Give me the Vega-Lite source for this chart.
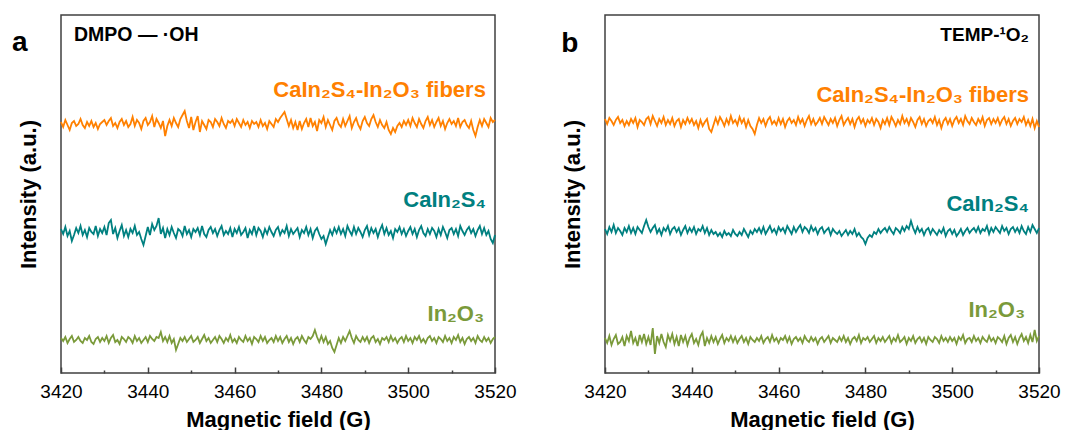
{
"$schema": "https://vega.github.io/schema/vega-lite/v6.json",
"padding": {"left": 11, "top": 14, "right": 10, "bottom": 2},
"spacing": 110,
"bounds": "flush",
"config": {
 "view": {"stroke": "#404040", "strokeWidth": 1.5},
 "font": "Liberation Sans",
 "axis": {"grid": false, "domain": false, "labelFont": "Liberation Sans", "titleFont": "Liberation Sans", "labelColor": "#000000", "titleColor": "#000000", "titleFontWeight": "bold", "titleFontSize": 22},
 "axisX": {"labelFontSize": 19, "labelPadding": 15, "titlePadding": 5, "tickColor": "#404040", "tickWidth": 1.5, "labelFlush": false, "labelOverlap": false},
 "axisY": {"labels": false, "ticks": false, "titlePadding": 21}
},
"datasets": {
"ao": [{"f":3420,"v":251},{"f":3420.5,"v":246},{"f":3421,"v":253},{"f":3421.5,"v":248},{"f":3422,"v":243},{"f":3422.5,"v":250},{"f":3423,"v":252},{"f":3423.5,"v":247},{"f":3424,"v":249},{"f":3424.5,"v":254},
{"f":3425,"v":248},{"f":3425.5,"v":245},{"f":3426,"v":251},{"f":3426.5,"v":247},{"f":3427,"v":252},{"f":3427.5,"v":246},{"f":3428,"v":250},{"f":3428.5,"v":244},{"f":3429,"v":249},{"f":3429.5,"v":251},
{"f":3430,"v":253},{"f":3430.5,"v":248},{"f":3431,"v":252},{"f":3431.5,"v":255},{"f":3432,"v":247},{"f":3432.5,"v":250},{"f":3433,"v":245},{"f":3433.5,"v":251},{"f":3434,"v":254},{"f":3434.5,"v":248},
{"f":3435,"v":252},{"f":3435.5,"v":246},{"f":3436,"v":249},{"f":3436.5,"v":256},{"f":3437,"v":247},{"f":3437.5,"v":253},{"f":3438,"v":250},{"f":3438.5,"v":244},{"f":3439,"v":252},{"f":3439.5,"v":255},
{"f":3440,"v":248},{"f":3440.5,"v":251},{"f":3441,"v":257},{"f":3441.5,"v":246},{"f":3442,"v":254},{"f":3442.5,"v":250},{"f":3443,"v":245},{"f":3443.5,"v":252},{"f":3444,"v":237},{"f":3444.5,"v":247},
{"f":3445,"v":253},{"f":3445.5,"v":247},{"f":3446,"v":255},{"f":3446.5,"v":250},{"f":3447,"v":246},{"f":3447.5,"v":254},{"f":3448,"v":258},{"f":3448.5,"v":262},{"f":3449,"v":252},{"f":3449.5,"v":245},
{"f":3450,"v":256},{"f":3450.5,"v":243},{"f":3451,"v":251},{"f":3451.5,"v":257},{"f":3452,"v":241},{"f":3452.5,"v":252},{"f":3453,"v":248},{"f":3453.5,"v":244},{"f":3454,"v":253},{"f":3454.5,"v":251},
{"f":3455,"v":246},{"f":3455.5,"v":254},{"f":3456,"v":251},{"f":3456.5,"v":247},{"f":3457,"v":255},{"f":3457.5,"v":249},{"f":3458,"v":245},{"f":3458.5,"v":252},{"f":3459,"v":250},{"f":3459.5,"v":253},
{"f":3460,"v":247},{"f":3460.5,"v":254},{"f":3461,"v":250},{"f":3461.5,"v":246},{"f":3462,"v":253},{"f":3462.5,"v":248},{"f":3463,"v":251},{"f":3463.5,"v":245},{"f":3464,"v":252},{"f":3464.5,"v":249},
{"f":3465,"v":251},{"f":3465.5,"v":246},{"f":3466,"v":253},{"f":3466.5,"v":247},{"f":3467,"v":250},{"f":3467.5,"v":244},{"f":3468,"v":252},{"f":3468.5,"v":249},{"f":3469,"v":246},{"f":3469.5,"v":254},
{"f":3470,"v":251},{"f":3470.5,"v":255},{"f":3471,"v":258},{"f":3471.5,"v":261},{"f":3472,"v":254},{"f":3472.5,"v":247},{"f":3473,"v":253},{"f":3473.5,"v":245},{"f":3474,"v":251},{"f":3474.5,"v":243},
{"f":3475,"v":252},{"f":3475.5,"v":244},{"f":3476,"v":250},{"f":3476.5,"v":254},{"f":3477,"v":246},{"f":3477.5,"v":255},{"f":3478,"v":247},{"f":3478.5,"v":251},{"f":3479,"v":242},{"f":3479.5,"v":253},
{"f":3480,"v":250},{"f":3480.5,"v":256},{"f":3481,"v":246},{"f":3481.5,"v":253},{"f":3482,"v":248},{"f":3482.5,"v":243},{"f":3483,"v":252},{"f":3483.5,"v":255},{"f":3484,"v":249},{"f":3484.5,"v":246},
{"f":3485,"v":254},{"f":3485.5,"v":247},{"f":3486,"v":252},{"f":3486.5,"v":257},{"f":3487,"v":245},{"f":3487.5,"v":251},{"f":3488,"v":255},{"f":3488.5,"v":248},{"f":3489,"v":244},{"f":3489.5,"v":252},
{"f":3490,"v":256},{"f":3490.5,"v":250},{"f":3491,"v":247},{"f":3491.5,"v":254},{"f":3492,"v":258},{"f":3492.5,"v":251},{"f":3493,"v":246},{"f":3493.5,"v":253},{"f":3494,"v":248},{"f":3494.5,"v":245},
{"f":3495,"v":251},{"f":3495.5,"v":243},{"f":3496,"v":239},{"f":3496.5,"v":245},{"f":3497,"v":241},{"f":3497.5,"v":247},{"f":3498,"v":250},{"f":3498.5,"v":246},{"f":3499,"v":252},{"f":3499.5,"v":248},
{"f":3500,"v":253},{"f":3500.5,"v":247},{"f":3501,"v":255},{"f":3501.5,"v":250},{"f":3502,"v":246},{"f":3502.5,"v":254},{"f":3503,"v":249},{"f":3503.5,"v":245},{"f":3504,"v":252},{"f":3504.5,"v":256},
{"f":3505,"v":248},{"f":3505.5,"v":253},{"f":3506,"v":246},{"f":3506.5,"v":251},{"f":3507,"v":255},{"f":3507.5,"v":247},{"f":3508,"v":252},{"f":3508.5,"v":244},{"f":3509,"v":250},{"f":3509.5,"v":254},
{"f":3510,"v":249},{"f":3510.5,"v":252},{"f":3511,"v":247},{"f":3511.5,"v":255},{"f":3512,"v":246},{"f":3512.5,"v":251},{"f":3513,"v":253},{"f":3513.5,"v":248},{"f":3514,"v":245},{"f":3514.5,"v":252},
{"f":3515,"v":243},{"f":3515.5,"v":237},{"f":3516,"v":246},{"f":3516.5,"v":253},{"f":3517,"v":247},{"f":3517.5,"v":254},{"f":3518,"v":250},{"f":3518.5,"v":246},{"f":3519,"v":255},{"f":3519.5,"v":251},
{"f":3520,"v":253}],
"at": [{"f":3420,"v":144},{"f":3420.5,"v":139},{"f":3421,"v":146},{"f":3421.5,"v":137},{"f":3422,"v":142},{"f":3422.5,"v":132},{"f":3423,"v":138},{"f":3423.5,"v":145},{"f":3424,"v":140},{"f":3424.5,"v":147},
{"f":3425,"v":138},{"f":3425.5,"v":143},{"f":3426,"v":136},{"f":3426.5,"v":145},{"f":3427,"v":141},{"f":3427.5,"v":139},{"f":3428,"v":147},{"f":3428.5,"v":137},{"f":3429,"v":144},{"f":3429.5,"v":140},
{"f":3430,"v":146},{"f":3430.5,"v":138},{"f":3431,"v":150},{"f":3431.5,"v":153},{"f":3432,"v":139},{"f":3432.5,"v":145},{"f":3433,"v":135},{"f":3433.5,"v":142},{"f":3434,"v":148},{"f":3434.5,"v":137},
{"f":3435,"v":143},{"f":3435.5,"v":136},{"f":3436,"v":144},{"f":3436.5,"v":140},{"f":3437,"v":147},{"f":3437.5,"v":138},{"f":3438,"v":141},{"f":3438.5,"v":134},{"f":3439,"v":128},{"f":3439.5,"v":137},
{"f":3440,"v":146},{"f":3440.5,"v":138},{"f":3441,"v":149},{"f":3441.5,"v":143},{"f":3442,"v":147},{"f":3442.5,"v":155},{"f":3443,"v":139},{"f":3443.5,"v":145},{"f":3444,"v":135},{"f":3444.5,"v":144},
{"f":3445,"v":138},{"f":3445.5,"v":146},{"f":3446,"v":140},{"f":3446.5,"v":135},{"f":3447,"v":144},{"f":3447.5,"v":142},{"f":3448,"v":137},{"f":3448.5,"v":147},{"f":3449,"v":139},{"f":3449.5,"v":143},
{"f":3450,"v":136},{"f":3450.5,"v":144},{"f":3451,"v":141},{"f":3451.5,"v":145},{"f":3452,"v":138},{"f":3452.5,"v":147},{"f":3453,"v":139},{"f":3453.5,"v":136},{"f":3454,"v":143},{"f":3454.5,"v":146},
{"f":3455,"v":140},{"f":3455.5,"v":144},{"f":3456,"v":137},{"f":3456.5,"v":143},{"f":3457,"v":147},{"f":3457.5,"v":138},{"f":3458,"v":142},{"f":3458.5,"v":139},{"f":3459,"v":145},{"f":3459.5,"v":136},
{"f":3460,"v":144},{"f":3460.5,"v":140},{"f":3461,"v":146},{"f":3461.5,"v":138},{"f":3462,"v":141},{"f":3462.5,"v":145},{"f":3463,"v":135},{"f":3463.5,"v":143},{"f":3464,"v":139},{"f":3464.5,"v":147},
{"f":3465,"v":138},{"f":3465.5,"v":145},{"f":3466,"v":142},{"f":3466.5,"v":136},{"f":3467,"v":144},{"f":3467.5,"v":139},{"f":3468,"v":146},{"f":3468.5,"v":141},{"f":3469,"v":137},{"f":3469.5,"v":143},
{"f":3470,"v":146},{"f":3470.5,"v":138},{"f":3471,"v":143},{"f":3471.5,"v":140},{"f":3472,"v":147},{"f":3472.5,"v":137},{"f":3473,"v":144},{"f":3473.5,"v":139},{"f":3474,"v":142},{"f":3474.5,"v":145},
{"f":3475,"v":136},{"f":3475.5,"v":143},{"f":3476,"v":140},{"f":3476.5,"v":146},{"f":3477,"v":138},{"f":3477.5,"v":144},{"f":3478,"v":135},{"f":3478.5,"v":142},{"f":3479,"v":145},{"f":3479.5,"v":139},
{"f":3480,"v":134},{"f":3480.5,"v":137},{"f":3481,"v":129},{"f":3481.5,"v":136},{"f":3482,"v":143},{"f":3482.5,"v":138},{"f":3483,"v":145},{"f":3483.5,"v":140},{"f":3484,"v":146},{"f":3484.5,"v":139},
{"f":3485,"v":144},{"f":3485.5,"v":137},{"f":3486,"v":147},{"f":3486.5,"v":142},{"f":3487,"v":138},{"f":3487.5,"v":146},{"f":3488,"v":139},{"f":3488.5,"v":145},{"f":3489,"v":141},{"f":3489.5,"v":136},
{"f":3490,"v":143},{"f":3490.5,"v":147},{"f":3491,"v":138},{"f":3491.5,"v":145},{"f":3492,"v":140},{"f":3492.5,"v":144},{"f":3493,"v":136},{"f":3493.5,"v":143},{"f":3494,"v":148},{"f":3494.5,"v":139},
{"f":3495,"v":145},{"f":3495.5,"v":138},{"f":3496,"v":142},{"f":3496.5,"v":135},{"f":3497,"v":144},{"f":3497.5,"v":141},{"f":3498,"v":146},{"f":3498.5,"v":139},{"f":3499,"v":144},{"f":3499.5,"v":137},
{"f":3500,"v":142},{"f":3500.5,"v":146},{"f":3501,"v":139},{"f":3501.5,"v":144},{"f":3502,"v":136},{"f":3502.5,"v":143},{"f":3503,"v":147},{"f":3503.5,"v":140},{"f":3504,"v":137},{"f":3504.5,"v":144},
{"f":3505,"v":139},{"f":3505.5,"v":145},{"f":3506,"v":142},{"f":3506.5,"v":136},{"f":3507,"v":144},{"f":3507.5,"v":138},{"f":3508,"v":146},{"f":3508.5,"v":141},{"f":3509,"v":135},{"f":3509.5,"v":143},
{"f":3510,"v":145},{"f":3510.5,"v":139},{"f":3511,"v":144},{"f":3511.5,"v":137},{"f":3512,"v":147},{"f":3512.5,"v":142},{"f":3513,"v":138},{"f":3513.5,"v":143},{"f":3514,"v":146},{"f":3514.5,"v":140},
{"f":3515,"v":144},{"f":3515.5,"v":137},{"f":3516,"v":143},{"f":3516.5,"v":147},{"f":3517,"v":139},{"f":3517.5,"v":145},{"f":3518,"v":138},{"f":3518.5,"v":142},{"f":3519,"v":134},{"f":3519.5,"v":130},
{"f":3520,"v":138}],
"ag": [{"f":3420,"v":35},{"f":3420.5,"v":32},{"f":3421,"v":36},{"f":3421.5,"v":30},{"f":3422,"v":34},{"f":3422.5,"v":37},{"f":3423,"v":31},{"f":3423.5,"v":33},{"f":3424,"v":36},{"f":3424.5,"v":32},
{"f":3425,"v":30},{"f":3425.5,"v":35},{"f":3426,"v":33},{"f":3426.5,"v":37},{"f":3427,"v":31},{"f":3427.5,"v":29},{"f":3428,"v":34},{"f":3428.5,"v":36},{"f":3429,"v":31},{"f":3429.5,"v":35},
{"f":3430,"v":32},{"f":3430.5,"v":37},{"f":3431,"v":30},{"f":3431.5,"v":35},{"f":3432,"v":38},{"f":3432.5,"v":31},{"f":3433,"v":33},{"f":3433.5,"v":29},{"f":3434,"v":36},{"f":3434.5,"v":34},
{"f":3435,"v":31},{"f":3435.5,"v":36},{"f":3436,"v":34},{"f":3436.5,"v":30},{"f":3437,"v":37},{"f":3437.5,"v":32},{"f":3438,"v":35},{"f":3438.5,"v":30},{"f":3439,"v":33},{"f":3439.5,"v":36},
{"f":3440,"v":31},{"f":3440.5,"v":37},{"f":3441,"v":34},{"f":3441.5,"v":32},{"f":3442,"v":36},{"f":3442.5,"v":35},{"f":3443,"v":41},{"f":3443.5,"v":32},{"f":3444,"v":36},{"f":3444.5,"v":31},
{"f":3445,"v":37},{"f":3445.5,"v":30},{"f":3446,"v":34},{"f":3446.5,"v":23},{"f":3447,"v":29},{"f":3447.5,"v":35},{"f":3448,"v":32},{"f":3448.5,"v":36},{"f":3449,"v":31},{"f":3449.5,"v":34},
{"f":3450,"v":37},{"f":3450.5,"v":31},{"f":3451,"v":33},{"f":3451.5,"v":36},{"f":3452,"v":30},{"f":3452.5,"v":34},{"f":3453,"v":38},{"f":3453.5,"v":32},{"f":3454,"v":35},{"f":3454.5,"v":30},
{"f":3455,"v":33},{"f":3455.5,"v":36},{"f":3456,"v":31},{"f":3456.5,"v":37},{"f":3457,"v":34},{"f":3457.5,"v":30},{"f":3458,"v":35},{"f":3458.5,"v":32},{"f":3459,"v":38},{"f":3459.5,"v":31},
{"f":3460,"v":34},{"f":3460.5,"v":30},{"f":3461,"v":36},{"f":3461.5,"v":33},{"f":3462,"v":31},{"f":3462.5,"v":37},{"f":3463,"v":32},{"f":3463.5,"v":35},{"f":3464,"v":29},{"f":3464.5,"v":36},
{"f":3465,"v":34},{"f":3465.5,"v":31},{"f":3466,"v":37},{"f":3466.5,"v":32},{"f":3467,"v":36},{"f":3467.5,"v":30},{"f":3468,"v":33},{"f":3468.5,"v":35},{"f":3469,"v":31},{"f":3469.5,"v":37},
{"f":3470,"v":32},{"f":3470.5,"v":36},{"f":3471,"v":30},{"f":3471.5,"v":34},{"f":3472,"v":37},{"f":3472.5,"v":31},{"f":3473,"v":35},{"f":3473.5,"v":29},{"f":3474,"v":34},{"f":3474.5,"v":36},
{"f":3475,"v":31},{"f":3475.5,"v":37},{"f":3476,"v":33},{"f":3476.5,"v":30},{"f":3477,"v":36},{"f":3477.5,"v":34},{"f":3478,"v":37},{"f":3478.5,"v":43},{"f":3479,"v":36},{"f":3479.5,"v":31},
{"f":3480,"v":37},{"f":3480.5,"v":31},{"f":3481,"v":36},{"f":3481.5,"v":29},{"f":3482,"v":32},{"f":3482.5,"v":25},{"f":3483,"v":21},{"f":3483.5,"v":28},{"f":3484,"v":35},{"f":3484.5,"v":30},
{"f":3485,"v":36},{"f":3485.5,"v":32},{"f":3486,"v":37},{"f":3486.5,"v":42},{"f":3487,"v":35},{"f":3487.5,"v":30},{"f":3488,"v":37},{"f":3488.5,"v":33},{"f":3489,"v":31},{"f":3489.5,"v":36},
{"f":3490,"v":32},{"f":3490.5,"v":36},{"f":3491,"v":30},{"f":3491.5,"v":35},{"f":3492,"v":37},{"f":3492.5,"v":31},{"f":3493,"v":34},{"f":3493.5,"v":29},{"f":3494,"v":35},{"f":3494.5,"v":33},
{"f":3495,"v":36},{"f":3495.5,"v":31},{"f":3496,"v":37},{"f":3496.5,"v":32},{"f":3497,"v":35},{"f":3497.5,"v":30},{"f":3498,"v":34},{"f":3498.5,"v":36},{"f":3499,"v":31},{"f":3499.5,"v":37},
{"f":3500,"v":32},{"f":3500.5,"v":35},{"f":3501,"v":30},{"f":3501.5,"v":36},{"f":3502,"v":33},{"f":3502.5,"v":37},{"f":3503,"v":31},{"f":3503.5,"v":34},{"f":3504,"v":30},{"f":3504.5,"v":35},
{"f":3505,"v":37},{"f":3505.5,"v":32},{"f":3506,"v":35},{"f":3506.5,"v":30},{"f":3507,"v":36},{"f":3507.5,"v":34},{"f":3508,"v":31},{"f":3508.5,"v":37},{"f":3509,"v":32},{"f":3509.5,"v":35},
{"f":3510,"v":30},{"f":3510.5,"v":36},{"f":3511,"v":33},{"f":3511.5,"v":38},{"f":3512,"v":31},{"f":3512.5,"v":35},{"f":3513,"v":29},{"f":3513.5,"v":34},{"f":3514,"v":36},{"f":3514.5,"v":32},
{"f":3515,"v":35},{"f":3515.5,"v":30},{"f":3516,"v":37},{"f":3516.5,"v":33},{"f":3517,"v":31},{"f":3517.5,"v":36},{"f":3518,"v":32},{"f":3518.5,"v":35},{"f":3519,"v":30},{"f":3519.5,"v":34},
{"f":3520,"v":36}],
"bo": [{"f":3420,"v":254},{"f":3420.5,"v":249},{"f":3421,"v":255},{"f":3421.5,"v":252},{"f":3422,"v":248},{"f":3422.5,"v":253},{"f":3423,"v":256},{"f":3423.5,"v":250},{"f":3424,"v":253},{"f":3424.5,"v":247},
{"f":3425,"v":252},{"f":3425.5,"v":248},{"f":3426,"v":254},{"f":3426.5,"v":250},{"f":3427,"v":255},{"f":3427.5,"v":246},{"f":3428,"v":253},{"f":3428.5,"v":251},{"f":3429,"v":248},{"f":3429.5,"v":254},
{"f":3430,"v":256},{"f":3430.5,"v":249},{"f":3431,"v":257},{"f":3431.5,"v":252},{"f":3432,"v":247},{"f":3432.5,"v":254},{"f":3433,"v":250},{"f":3433.5,"v":256},{"f":3434,"v":248},{"f":3434.5,"v":253},
{"f":3435,"v":249},{"f":3435.5,"v":255},{"f":3436,"v":247},{"f":3436.5,"v":252},{"f":3437,"v":254},{"f":3437.5,"v":246},{"f":3438,"v":253},{"f":3438.5,"v":249},{"f":3439,"v":255},{"f":3439.5,"v":250},
{"f":3440,"v":254},{"f":3440.5,"v":248},{"f":3441,"v":252},{"f":3441.5,"v":245},{"f":3442,"v":253},{"f":3442.5,"v":247},{"f":3443,"v":251},{"f":3443.5,"v":254},{"f":3444,"v":244},{"f":3444.5,"v":241},
{"f":3445,"v":248},{"f":3445.5,"v":255},{"f":3446,"v":249},{"f":3446.5,"v":256},{"f":3447,"v":252},{"f":3447.5,"v":247},{"f":3448,"v":254},{"f":3448.5,"v":249},{"f":3449,"v":257},{"f":3449.5,"v":250},
{"f":3450,"v":253},{"f":3450.5,"v":248},{"f":3451,"v":256},{"f":3451.5,"v":250},{"f":3452,"v":254},{"f":3452.5,"v":246},{"f":3453,"v":253},{"f":3453.5,"v":247},{"f":3454,"v":244},{"f":3454.5,"v":239},
{"f":3455,"v":248},{"f":3455.5,"v":255},{"f":3456,"v":250},{"f":3456.5,"v":254},{"f":3457,"v":247},{"f":3457.5,"v":253},{"f":3458,"v":256},{"f":3458.5,"v":249},{"f":3459,"v":252},{"f":3459.5,"v":248},
{"f":3460,"v":255},{"f":3460.5,"v":249},{"f":3461,"v":254},{"f":3461.5,"v":246},{"f":3462,"v":252},{"f":3462.5,"v":255},{"f":3463,"v":250},{"f":3463.5,"v":253},{"f":3464,"v":248},{"f":3464.5,"v":256},
{"f":3465,"v":250},{"f":3465.5,"v":254},{"f":3466,"v":247},{"f":3466.5,"v":253},{"f":3467,"v":257},{"f":3467.5,"v":249},{"f":3468,"v":254},{"f":3468.5,"v":248},{"f":3469,"v":251},{"f":3469.5,"v":255},
{"f":3470,"v":249},{"f":3470.5,"v":256},{"f":3471,"v":252},{"f":3471.5,"v":248},{"f":3472,"v":254},{"f":3472.5,"v":250},{"f":3473,"v":255},{"f":3473.5,"v":247},{"f":3474,"v":253},{"f":3474.5,"v":257},
{"f":3475,"v":248},{"f":3475.5,"v":252},{"f":3476,"v":255},{"f":3476.5,"v":249},{"f":3477,"v":254},{"f":3477.5,"v":246},{"f":3478,"v":253},{"f":3478.5,"v":256},{"f":3479,"v":250},{"f":3479.5,"v":254},
{"f":3480,"v":247},{"f":3480.5,"v":253},{"f":3481,"v":250},{"f":3481.5,"v":255},{"f":3482,"v":248},{"f":3482.5,"v":254},{"f":3483,"v":251},{"f":3483.5,"v":245},{"f":3484,"v":253},{"f":3484.5,"v":249},
{"f":3485,"v":255},{"f":3485.5,"v":248},{"f":3486,"v":256},{"f":3486.5,"v":252},{"f":3487,"v":247},{"f":3487.5,"v":253},{"f":3488,"v":249},{"f":3488.5,"v":257},{"f":3489,"v":250},{"f":3489.5,"v":254},
{"f":3490,"v":248},{"f":3490.5,"v":255},{"f":3491,"v":251},{"f":3491.5,"v":246},{"f":3492,"v":253},{"f":3492.5,"v":256},{"f":3493,"v":249},{"f":3493.5,"v":254},{"f":3494,"v":247},{"f":3494.5,"v":252},
{"f":3495,"v":254},{"f":3495.5,"v":250},{"f":3496,"v":256},{"f":3496.5,"v":248},{"f":3497,"v":253},{"f":3497.5,"v":245},{"f":3498,"v":252},{"f":3498.5,"v":255},{"f":3499,"v":249},{"f":3499.5,"v":254},
{"f":3500,"v":247},{"f":3500.5,"v":253},{"f":3501,"v":256},{"f":3501.5,"v":250},{"f":3502,"v":254},{"f":3502.5,"v":248},{"f":3503,"v":257},{"f":3503.5,"v":252},{"f":3504,"v":249},{"f":3504.5,"v":255},
{"f":3505,"v":251},{"f":3505.5,"v":248},{"f":3506,"v":254},{"f":3506.5,"v":250},{"f":3507,"v":256},{"f":3507.5,"v":247},{"f":3508,"v":253},{"f":3508.5,"v":255},{"f":3509,"v":249},{"f":3509.5,"v":254},
{"f":3510,"v":250},{"f":3510.5,"v":255},{"f":3511,"v":248},{"f":3511.5,"v":253},{"f":3512,"v":256},{"f":3512.5,"v":249},{"f":3513,"v":254},{"f":3513.5,"v":247},{"f":3514,"v":252},{"f":3514.5,"v":255},
{"f":3515,"v":249},{"f":3515.5,"v":254},{"f":3516,"v":251},{"f":3516.5,"v":256},{"f":3517,"v":248},{"f":3517.5,"v":253},{"f":3518,"v":247},{"f":3518.5,"v":254},{"f":3519,"v":245},{"f":3519.5,"v":252},
{"f":3520,"v":246}],
"bt": [{"f":3420,"v":144},{"f":3420.5,"v":139},{"f":3421,"v":146},{"f":3421.5,"v":141},{"f":3422,"v":148},{"f":3422.5,"v":140},{"f":3423,"v":145},{"f":3423.5,"v":142},{"f":3424,"v":138},{"f":3424.5,"v":145},
{"f":3425,"v":141},{"f":3425.5,"v":147},{"f":3426,"v":140},{"f":3426.5,"v":145},{"f":3427,"v":139},{"f":3427.5,"v":146},{"f":3428,"v":143},{"f":3428.5,"v":140},{"f":3429,"v":147},{"f":3429.5,"v":153},
{"f":3430,"v":146},{"f":3430.5,"v":141},{"f":3431,"v":145},{"f":3431.5,"v":148},{"f":3432,"v":140},{"f":3432.5,"v":144},{"f":3433,"v":138},{"f":3433.5,"v":145},{"f":3434,"v":142},{"f":3434.5,"v":147},
{"f":3435,"v":139},{"f":3435.5,"v":144},{"f":3436,"v":146},{"f":3436.5,"v":141},{"f":3437,"v":145},{"f":3437.5,"v":138},{"f":3438,"v":143},{"f":3438.5,"v":147},{"f":3439,"v":140},{"f":3439.5,"v":145},
{"f":3440,"v":141},{"f":3440.5,"v":146},{"f":3441,"v":139},{"f":3441.5,"v":144},{"f":3442,"v":142},{"f":3442.5,"v":147},{"f":3443,"v":140},{"f":3443.5,"v":145},{"f":3444,"v":138},{"f":3444.5,"v":143},
{"f":3445,"v":139},{"f":3445.5,"v":141},{"f":3446,"v":137},{"f":3446.5,"v":140},{"f":3447,"v":136},{"f":3447.5,"v":142},{"f":3448,"v":138},{"f":3448.5,"v":140},{"f":3449,"v":137},{"f":3449.5,"v":143},
{"f":3450,"v":139},{"f":3450.5,"v":137},{"f":3451,"v":141},{"f":3451.5,"v":138},{"f":3452,"v":144},{"f":3452.5,"v":140},{"f":3453,"v":136},{"f":3453.5,"v":142},{"f":3454,"v":139},{"f":3454.5,"v":144},
{"f":3455,"v":141},{"f":3455.5,"v":145},{"f":3456,"v":140},{"f":3456.5,"v":146},{"f":3457,"v":139},{"f":3457.5,"v":143},{"f":3458,"v":147},{"f":3458.5,"v":141},{"f":3459,"v":144},{"f":3459.5,"v":139},
{"f":3460,"v":146},{"f":3460.5,"v":142},{"f":3461,"v":145},{"f":3461.5,"v":140},{"f":3462,"v":147},{"f":3462.5,"v":143},{"f":3463,"v":139},{"f":3463.5,"v":146},{"f":3464,"v":141},{"f":3464.5,"v":145},
{"f":3465,"v":148},{"f":3465.5,"v":141},{"f":3466,"v":146},{"f":3466.5,"v":144},{"f":3467,"v":140},{"f":3467.5,"v":147},{"f":3468,"v":142},{"f":3468.5,"v":145},{"f":3469,"v":139},{"f":3469.5,"v":144},
{"f":3470,"v":146},{"f":3470.5,"v":140},{"f":3471,"v":143},{"f":3471.5,"v":145},{"f":3472,"v":138},{"f":3472.5,"v":144},{"f":3473,"v":141},{"f":3473.5,"v":139},{"f":3474,"v":142},{"f":3474.5,"v":137},
{"f":3475,"v":140},{"f":3475.5,"v":143},{"f":3476,"v":138},{"f":3476.5,"v":142},{"f":3477,"v":139},{"f":3477.5,"v":144},{"f":3478,"v":137},{"f":3478.5,"v":140},{"f":3479,"v":136},{"f":3479.5,"v":134},
{"f":3480,"v":129},{"f":3480.5,"v":135},{"f":3481,"v":138},{"f":3481.5,"v":136},{"f":3482,"v":141},{"f":3482.5,"v":139},{"f":3483,"v":144},{"f":3483.5,"v":140},{"f":3484,"v":143},{"f":3484.5,"v":145},
{"f":3485,"v":141},{"f":3485.5,"v":146},{"f":3486,"v":142},{"f":3486.5,"v":139},{"f":3487,"v":145},{"f":3487.5,"v":143},{"f":3488,"v":140},{"f":3488.5,"v":146},{"f":3489,"v":142},{"f":3489.5,"v":147},
{"f":3490,"v":144},{"f":3490.5,"v":152},{"f":3491,"v":145},{"f":3491.5,"v":140},{"f":3492,"v":146},{"f":3492.5,"v":141},{"f":3493,"v":144},{"f":3493.5,"v":138},{"f":3494,"v":143},{"f":3494.5,"v":145},
{"f":3495,"v":139},{"f":3495.5,"v":144},{"f":3496,"v":141},{"f":3496.5,"v":138},{"f":3497,"v":143},{"f":3497.5,"v":140},{"f":3498,"v":145},{"f":3498.5,"v":137},{"f":3499,"v":142},{"f":3499.5,"v":144},
{"f":3500,"v":139},{"f":3500.5,"v":143},{"f":3501,"v":137},{"f":3501.5,"v":140},{"f":3502,"v":144},{"f":3502.5,"v":138},{"f":3503,"v":142},{"f":3503.5,"v":145},{"f":3504,"v":140},{"f":3504.5,"v":143},
{"f":3505,"v":145},{"f":3505.5,"v":141},{"f":3506,"v":146},{"f":3506.5,"v":140},{"f":3507,"v":144},{"f":3507.5,"v":142},{"f":3508,"v":147},{"f":3508.5,"v":139},{"f":3509,"v":145},{"f":3509.5,"v":141},
{"f":3510,"v":146},{"f":3510.5,"v":143},{"f":3511,"v":140},{"f":3511.5,"v":147},{"f":3512,"v":142},{"f":3512.5,"v":145},{"f":3513,"v":139},{"f":3513.5,"v":144},{"f":3514,"v":146},{"f":3514.5,"v":141},
{"f":3515,"v":145},{"f":3515.5,"v":140},{"f":3516,"v":147},{"f":3516.5,"v":142},{"f":3517,"v":139},{"f":3517.5,"v":146},{"f":3518,"v":141},{"f":3518.5,"v":148},{"f":3519,"v":144},{"f":3519.5,"v":140},
{"f":3520,"v":145}],
"bg": [{"f":3420,"v":35},{"f":3420.5,"v":30},{"f":3421,"v":37},{"f":3421.5,"v":28},{"f":3422,"v":34},{"f":3422.5,"v":38},{"f":3423,"v":29},{"f":3423.5,"v":31},{"f":3424,"v":36},{"f":3424.5,"v":27},
{"f":3425,"v":37},{"f":3425.5,"v":32},{"f":3426,"v":42},{"f":3426.5,"v":30},{"f":3427,"v":35},{"f":3427.5,"v":27},{"f":3428,"v":38},{"f":3428.5,"v":31},{"f":3429,"v":39},{"f":3429.5,"v":29},
{"f":3430,"v":36},{"f":3430.5,"v":28},{"f":3431,"v":45},{"f":3431.5,"v":19},{"f":3432,"v":37},{"f":3432.5,"v":30},{"f":3433,"v":39},{"f":3433.5,"v":31},{"f":3434,"v":26},{"f":3434.5,"v":38},
{"f":3435,"v":32},{"f":3435.5,"v":39},{"f":3436,"v":29},{"f":3436.5,"v":36},{"f":3437,"v":27},{"f":3437.5,"v":38},{"f":3438,"v":31},{"f":3438.5,"v":37},{"f":3439,"v":28},{"f":3439.5,"v":35},
{"f":3440,"v":39},{"f":3440.5,"v":30},{"f":3441,"v":34},{"f":3441.5,"v":28},{"f":3442,"v":37},{"f":3442.5,"v":41},{"f":3443,"v":27},{"f":3443.5,"v":35},{"f":3444,"v":30},{"f":3444.5,"v":37},
{"f":3445,"v":31},{"f":3445.5,"v":36},{"f":3446,"v":29},{"f":3446.5,"v":34},{"f":3447,"v":38},{"f":3447.5,"v":30},{"f":3448,"v":35},{"f":3448.5,"v":32},{"f":3449,"v":37},{"f":3449.5,"v":31},
{"f":3450,"v":36},{"f":3450.5,"v":30},{"f":3451,"v":34},{"f":3451.5,"v":37},{"f":3452,"v":31},{"f":3452.5,"v":35},{"f":3453,"v":29},{"f":3453.5,"v":36},{"f":3454,"v":33},{"f":3454.5,"v":31},
{"f":3455,"v":35},{"f":3455.5,"v":32},{"f":3456,"v":37},{"f":3456.5,"v":30},{"f":3457,"v":34},{"f":3457.5,"v":36},{"f":3458,"v":31},{"f":3458.5,"v":38},{"f":3459,"v":32},{"f":3459.5,"v":35},
{"f":3460,"v":30},{"f":3460.5,"v":35},{"f":3461,"v":33},{"f":3461.5,"v":37},{"f":3462,"v":31},{"f":3462.5,"v":36},{"f":3463,"v":29},{"f":3463.5,"v":34},{"f":3464,"v":36},{"f":3464.5,"v":32},
{"f":3465,"v":35},{"f":3465.5,"v":30},{"f":3466,"v":37},{"f":3466.5,"v":33},{"f":3467,"v":31},{"f":3467.5,"v":36},{"f":3468,"v":32},{"f":3468.5,"v":35},{"f":3469,"v":29},{"f":3469.5,"v":34},
{"f":3470,"v":36},{"f":3470.5,"v":31},{"f":3471,"v":34},{"f":3471.5,"v":37},{"f":3472,"v":30},{"f":3472.5,"v":35},{"f":3473,"v":33},{"f":3473.5,"v":31},{"f":3474,"v":36},{"f":3474.5,"v":32},
{"f":3475,"v":37},{"f":3475.5,"v":31},{"f":3476,"v":35},{"f":3476.5,"v":29},{"f":3477,"v":34},{"f":3477.5,"v":36},{"f":3478,"v":32},{"f":3478.5,"v":38},{"f":3479,"v":30},{"f":3479.5,"v":35},
{"f":3480,"v":33},{"f":3480.5,"v":36},{"f":3481,"v":31},{"f":3481.5,"v":34},{"f":3482,"v":37},{"f":3482.5,"v":30},{"f":3483,"v":35},{"f":3483.5,"v":32},{"f":3484,"v":36},{"f":3484.5,"v":31},
{"f":3485,"v":34},{"f":3485.5,"v":37},{"f":3486,"v":30},{"f":3486.5,"v":35},{"f":3487,"v":32},{"f":3487.5,"v":38},{"f":3488,"v":31},{"f":3488.5,"v":33},{"f":3489,"v":36},{"f":3489.5,"v":29},
{"f":3490,"v":35},{"f":3490.5,"v":32},{"f":3491,"v":37},{"f":3491.5,"v":30},{"f":3492,"v":34},{"f":3492.5,"v":36},{"f":3493,"v":31},{"f":3493.5,"v":35},{"f":3494,"v":29},{"f":3494.5,"v":36},
{"f":3495,"v":33},{"f":3495.5,"v":31},{"f":3496,"v":36},{"f":3496.5,"v":34},{"f":3497,"v":30},{"f":3497.5,"v":37},{"f":3498,"v":32},{"f":3498.5,"v":35},{"f":3499,"v":31},{"f":3499.5,"v":36},
{"f":3500,"v":32},{"f":3500.5,"v":35},{"f":3501,"v":29},{"f":3501.5,"v":36},{"f":3502,"v":33},{"f":3502.5,"v":38},{"f":3503,"v":30},{"f":3503.5,"v":34},{"f":3504,"v":35},{"f":3504.5,"v":31},
{"f":3505,"v":37},{"f":3505.5,"v":32},{"f":3506,"v":35},{"f":3506.5,"v":30},{"f":3507,"v":36},{"f":3507.5,"v":33},{"f":3508,"v":31},{"f":3508.5,"v":37},{"f":3509,"v":32},{"f":3509.5,"v":35},
{"f":3510,"v":30},{"f":3510.5,"v":36},{"f":3511,"v":34},{"f":3511.5,"v":31},{"f":3512,"v":37},{"f":3512.5,"v":29},{"f":3513,"v":35},{"f":3513.5,"v":38},{"f":3514,"v":31},{"f":3514.5,"v":36},
{"f":3515,"v":29},{"f":3515.5,"v":35},{"f":3516,"v":39},{"f":3516.5,"v":32},{"f":3517,"v":36},{"f":3517.5,"v":30},{"f":3518,"v":38},{"f":3518.5,"v":31},{"f":3519,"v":43},{"f":3519.5,"v":32},
{"f":3520,"v":37}]
},
"hconcat": [
{
"width": 434, "height": 358,
"layer": [
{"data": {"name": "ao"}, "mark": {"type": "line", "color": "#FF8000", "strokeWidth": 1.8},
 "encoding": {
 "x": {"field": "f", "type": "quantitative", "scale": {"domain": [3420, 3520], "nice": false, "zero": false},
  "axis": {"title": "Magnetic field (G)", "values": [3420,3430,3440,3450,3460,3470,3480,3490,3500,3510,3520], "labelExpr": "datum.value % 20 === 0 ? datum.label : ''", "format": "d", "tickSize": {"condition": {"test": "datum.value % 20 === 0", "value": -6}, "value": -3}}},
 "y": {"field": "v", "type": "quantitative", "scale": {"domain": [0, 358], "nice": false, "zero": false},
  "axis": {"title": "Intensity (a.u.)"}}}},
{"data": {"name": "at"}, "mark": {"type": "line", "color": "#008080", "strokeWidth": 1.8},
 "encoding": {"x": {"field": "f", "type": "quantitative", "scale": {"domain": [3420, 3520], "nice": false, "zero": false}}, "y": {"field": "v", "type": "quantitative", "scale": {"domain": [0, 358], "nice": false, "zero": false}}}},
{"data": {"name": "ag"}, "mark": {"type": "line", "color": "#7A9A3A", "strokeWidth": 1.8},
 "encoding": {"x": {"field": "f", "type": "quantitative", "scale": {"domain": [3420, 3520], "nice": false, "zero": false}}, "y": {"field": "v", "type": "quantitative", "scale": {"domain": [0, 358], "nice": false, "zero": false}}}},
{"data": {"values": [{"label": "CaIn₂S₄-In₂O₃ fibers"}]}, "mark": {"type": "text", "align": "right", "baseline": "alphabetic", "font": "Liberation Sans", "fontSize": 22, "fontWeight": "bold", "color": "#FF8000"}, "encoding": {"x": {"datum": 3517.9, "type": "quantitative"}, "y": {"datum": 276, "type": "quantitative"}, "text": {"field": "label", "type": "nominal"}}},
{"data": {"values": [{"label": "CaIn₂S₄"}]}, "mark": {"type": "text", "align": "right", "baseline": "alphabetic", "font": "Liberation Sans", "fontSize": 22, "fontWeight": "bold", "color": "#008080"}, "encoding": {"x": {"datum": 3517.9, "type": "quantitative"}, "y": {"datum": 166, "type": "quantitative"}, "text": {"field": "label", "type": "nominal"}}},
{"data": {"values": [{"label": "In₂O₃"}]}, "mark": {"type": "text", "align": "right", "baseline": "alphabetic", "font": "Liberation Sans", "fontSize": 22, "fontWeight": "bold", "color": "#7A9A3A"}, "encoding": {"x": {"datum": 3517.5, "type": "quantitative"}, "y": {"datum": 52, "type": "quantitative"}, "text": {"field": "label", "type": "nominal"}}},
{"data": {"values": [{"label": "DMPO — ·OH"}]}, "mark": {"type": "text", "align": "left", "baseline": "alphabetic", "font": "Liberation Sans", "fontSize": 19.5, "fontWeight": "bold", "color": "#000000"}, "encoding": {"x": {"datum": 3423, "type": "quantitative"}, "y": {"datum": 332, "type": "quantitative"}, "text": {"field": "label", "type": "nominal"}}},
{"data": {"values": [{"label": "a"}]}, "mark": {"type": "text", "align": "left", "baseline": "alphabetic", "font": "Liberation Sans", "fontSize": 28, "fontWeight": "bold", "color": "#000000"}, "encoding": {"x": {"datum": 3408.7, "type": "quantitative"}, "y": {"datum": 322, "type": "quantitative"}, "text": {"field": "label", "type": "nominal"}}}
]
},
{
"width": 434, "height": 358,
"layer": [
{"data": {"name": "bo"}, "mark": {"type": "line", "color": "#FF8000", "strokeWidth": 1.8},
 "encoding": {
 "x": {"field": "f", "type": "quantitative", "scale": {"domain": [3420, 3520], "nice": false, "zero": false},
  "axis": {"title": "Magnetic field (G)", "values": [3420,3430,3440,3450,3460,3470,3480,3490,3500,3510,3520], "labelExpr": "datum.value % 20 === 0 ? datum.label : ''", "format": "d", "tickSize": {"condition": {"test": "datum.value % 20 === 0", "value": -6}, "value": -3}}},
 "y": {"field": "v", "type": "quantitative", "scale": {"domain": [0, 358], "nice": false, "zero": false},
  "axis": {"title": "Intensity (a.u.)"}}}},
{"data": {"name": "bt"}, "mark": {"type": "line", "color": "#008080", "strokeWidth": 1.8},
 "encoding": {"x": {"field": "f", "type": "quantitative", "scale": {"domain": [3420, 3520], "nice": false, "zero": false}}, "y": {"field": "v", "type": "quantitative", "scale": {"domain": [0, 358], "nice": false, "zero": false}}}},
{"data": {"name": "bg"}, "mark": {"type": "line", "color": "#7A9A3A", "strokeWidth": 1.8},
 "encoding": {"x": {"field": "f", "type": "quantitative", "scale": {"domain": [3420, 3520], "nice": false, "zero": false}}, "y": {"field": "v", "type": "quantitative", "scale": {"domain": [0, 358], "nice": false, "zero": false}}}},
{"data": {"values": [{"label": "CaIn₂S₄-In₂O₃ fibers"}]}, "mark": {"type": "text", "align": "right", "baseline": "alphabetic", "font": "Liberation Sans", "fontSize": 22, "fontWeight": "bold", "color": "#FF8000"}, "encoding": {"x": {"datum": 3517.7, "type": "quantitative"}, "y": {"datum": 271, "type": "quantitative"}, "text": {"field": "label", "type": "nominal"}}},
{"data": {"values": [{"label": "CaIn₂S₄"}]}, "mark": {"type": "text", "align": "right", "baseline": "alphabetic", "font": "Liberation Sans", "fontSize": 22, "fontWeight": "bold", "color": "#008080"}, "encoding": {"x": {"datum": 3517.7, "type": "quantitative"}, "y": {"datum": 162, "type": "quantitative"}, "text": {"field": "label", "type": "nominal"}}},
{"data": {"values": [{"label": "In₂O₃"}]}, "mark": {"type": "text", "align": "right", "baseline": "alphabetic", "font": "Liberation Sans", "fontSize": 22, "fontWeight": "bold", "color": "#7A9A3A"}, "encoding": {"x": {"datum": 3516.8, "type": "quantitative"}, "y": {"datum": 56, "type": "quantitative"}, "text": {"field": "label", "type": "nominal"}}},
{"data": {"values": [{"label": "TEMP-¹O₂"}]}, "mark": {"type": "text", "align": "right", "baseline": "alphabetic", "font": "Liberation Sans", "fontSize": 19, "fontWeight": "bold", "color": "#000000"}, "encoding": {"x": {"datum": 3517.7, "type": "quantitative"}, "y": {"datum": 332, "type": "quantitative"}, "text": {"field": "label", "type": "nominal"}}},
{"data": {"values": [{"label": "b"}]}, "mark": {"type": "text", "align": "left", "baseline": "alphabetic", "font": "Liberation Sans", "fontSize": 28, "fontWeight": "bold", "color": "#000000"}, "encoding": {"x": {"datum": 3409.9, "type": "quantitative"}, "y": {"datum": 321, "type": "quantitative"}, "text": {"field": "label", "type": "nominal"}}}
]
}
]
}
